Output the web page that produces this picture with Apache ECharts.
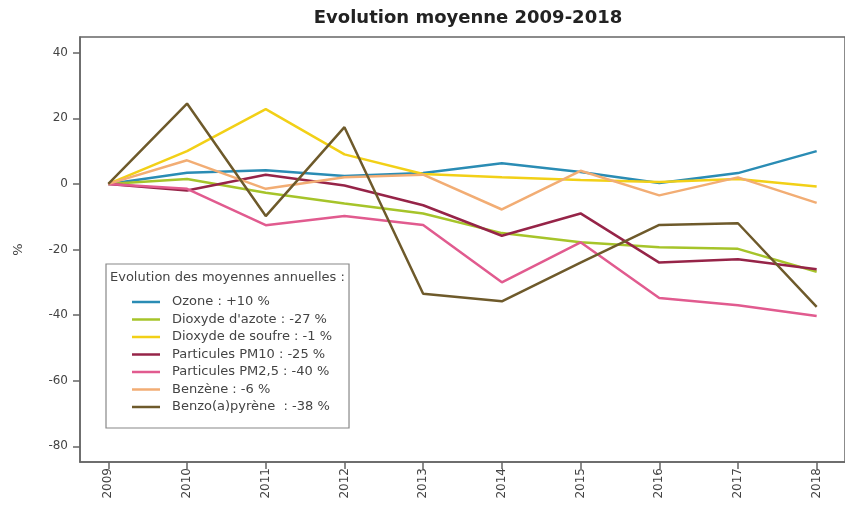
<!DOCTYPE html>
<html>
<head>
<meta charset="utf-8">
<script src="https://cdn.jsdelivr.net/npm/echarts@6/dist/echarts.min.js"></script>
<style>
html,body{margin:0;padding:0;background:#fff;}
#chart{width:845px;height:510px;}
</style>
</head>
<body>
<div id="chart"></div>
<script>
// ---- Data ----
const years = [2009, 2010, 2011, 2012, 2013, 2014, 2015, 2016, 2017, 2018];
const yTicks = [-80, -60, -40, -20, 0, 20, 40];
const seriesNames = [
  "Ozone : +10 %",
  "Dioxyde d'azote : -27 %",
  "Dioxyde de soufre : -1 %",
  "Particules PM10 : -25 %",
  "Particules PM2,5 : -40 %",
  "Benzène : -6 %",
  "Benzo(a)pyrène  : -38 %"
];
const ozone   = [0, 3.4, 4.2, 2.4, 3.3, 6.3, 3.6, 0.3, 3.3, 10];
const azote   = [0, 1.5, -2.7, -6, -9, -15, -17.8, -19.3, -19.8, -26.8];
const soufre  = [0, 10, 22.8, 9, 3, 2, 1.2, 0.6, 1.5, -0.8];
const pm10    = [0, -2, 2.8, -0.5, -6.5, -15.8, -9, -24, -23, -26];
const pm25    = [0, -1.5, -12.6, -9.8, -12.5, -30, -17.8, -34.8, -37, -40.3];
const benzene = [0, 7.2, -1.5, 2, 2.8, -7.8, 4, -3.5, 2, -5.8];
const benzo   = [0, 24.5, -9.8, 17.3, -33.5, -35.8, -24, -12.5, -12, -37.5];

const allValues = [ozone, azote, soufre, pm10, pm25, benzene, benzo];
const colors = ['#2a8cb4', '#a6c42a', '#f2d017', '#962448', '#e15b8f', '#f2ad74', '#6e5a2b'];

// R-like 4% axis extension
const xPad = (years[years.length - 1] - years[0]) * 0.04;
const yPad = (yTicks[yTicks.length - 1] - yTicks[0]) * 0.04;

const chart = echarts.init(document.getElementById('chart'), null, {renderer: 'canvas'});
const font = 'DejaVu Sans';

const series = allValues.map((vals, i) => ({
  name: seriesNames[i],
  type: 'line',
  data: years.map((y, j) => [y, vals[j]]),
  symbol: 'none',
  lineStyle: {width: 2.5, color: colors[i]},
  itemStyle: {color: colors[i]},
  animation: false
}));

chart.setOption({
  animation: false,
  backgroundColor: '#fff',
  title: [
    {
      text: 'Evolution moyenne 2009-2018',
      left: 468, top: 9, textAlign: 'center', padding: 0,
      textStyle: {fontFamily: font, fontWeight: 'bold', fontSize: 18, color: '#222'}
    },
    {
      text: 'Evolution des moyennes annuelles :',
      left: 110, top: 271, padding: 0, z: 10,
      textStyle: {fontFamily: font, fontWeight: 'normal', fontSize: 13, color: '#444'}
    }
  ],
  grid: {
    left: 80, top: 37, right: -10, bottom: 48,
    show: true, borderColor: '#666', borderWidth: 1.5, containLabel: false
  },
  xAxis: {
    type: 'value',
    min: years[0] - xPad,
    max: years[years.length - 1] + xPad,
    splitLine: {show: false},
    axisLine: {show: true, onZero: false, lineStyle: {color: '#666', width: 1.5}},
    axisTick: {show: true, customValues: years, length: 7, lineStyle: {color: '#666', width: 1.5}},
    axisLabel: {
      customValues: years, rotate: 90, margin: 6,
      formatter: v => String(v),
      fontFamily: font, fontSize: 12, color: '#444'
    }
  },
  yAxis: {
    type: 'value',
    min: yTicks[0] - yPad,
    max: yTicks[yTicks.length - 1] + yPad,
    name: '%', nameLocation: 'middle', nameGap: 55,
    nameTextStyle: {fontFamily: font, fontSize: 13, color: '#444'},
    splitLine: {show: false},
    axisLine: {show: true, onZero: false, lineStyle: {color: '#666', width: 1.5}},
    axisTick: {show: true, customValues: yTicks, length: 7, lineStyle: {color: '#666', width: 1.5}},
    axisLabel: {
      customValues: yTicks, margin: 12,
      fontFamily: font, fontSize: 12, color: '#444'
    }
  },
  legend: {
    orient: 'vertical',
    left: 106, top: 264,
    padding: [31, 17, 14, 26],
    backgroundColor: '#fff',
    borderColor: '#888', borderWidth: 1.2,
    icon: 'rect',
    itemWidth: 28, itemHeight: 2.5, itemGap: 3.5,
    data: seriesNames,
    textStyle: {fontFamily: font, fontSize: 13, color: '#444', lineHeight: 14, padding: [0, 0, 0, 7]},
    selectedMode: false
  },
  series: series
});
</script>
</body>
</html>
